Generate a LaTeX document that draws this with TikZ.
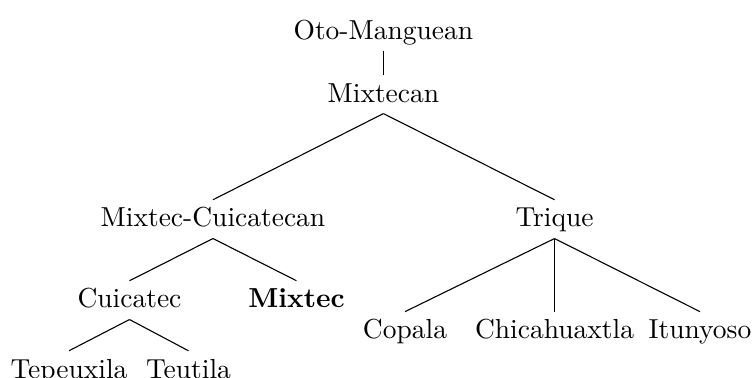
\documentclass[tikz,border=0pt]{standalone}

\begin{document}
\begin{tikzpicture}[lang/.style = {anchor=base,inner sep=3pt,text height=6.9pt,text depth=1.2pt,outer sep=0mm}]
\useasboundingbox (0,0) rectangle (9.662,4.831);
\node[lang] (otomanguean) at (4.90, 4.332) {Oto-Manguean};
\node[lang] (mixtecan) at (4.90, 3.527) {Mixtecan};
\node[lang] (mixcuic) at (2.722, 1.930) {Mixtec-Cuicatecan};
\node[lang] (trique) at (7.087, 1.930) {Trique};
\node[lang] (cuicatec) at (1.655, 0.895) {Cuicatec};
\node[lang] (mixtec) at (3.789, 0.895) {\textbf{Mixtec}};
\node[lang] (copala) at (5.176, 0.500) {Copala};
\node[lang] (chicahuaxtla) at (7.087, 0.500) {Chicahuaxtla};
\node[lang] (itunyoso) at (8.946, 0.500) {Itunyoso};
\node[lang] (tepeuxila) at (0.882, 0.0) {Tepeuxila};
\node[lang] (teutila) at (2.409, 0.0) {Teutila};
\foreach \a/\b in {otomanguean/mixtecan, mixtecan/mixcuic, mixtecan/trique,
                   mixcuic/cuicatec, mixcuic/mixtec,
                   trique/copala, trique/chicahuaxtla, trique/itunyoso,
                   cuicatec/tepeuxila, cuicatec/teutila}
    \draw (\a.south) -- (\b.north);
\end{tikzpicture}
\end{document}
